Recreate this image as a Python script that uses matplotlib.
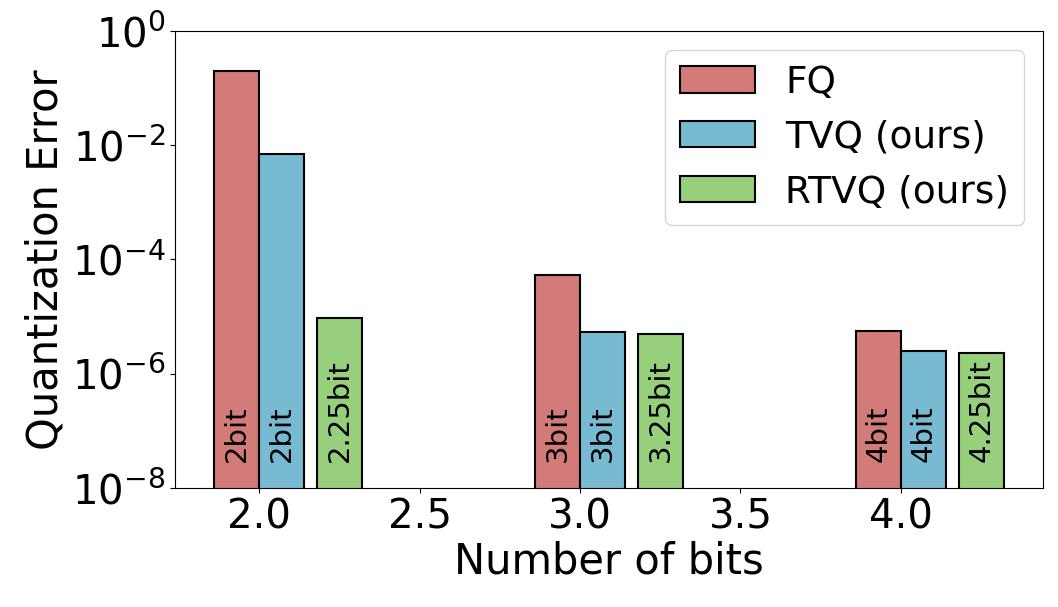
import matplotlib
matplotlib.use("Agg")
from matplotlib import pyplot as plt
import numpy as np

# quantization error per method
bits = [2, 3, 4]
fq = [0.2, 5.4e-5, 5.5e-6]
tvq = [7.0e-3, 5.4e-6, 2.5e-6]
rtvq = [9.5e-6, 5.0e-6, 2.3e-6]
fq_labels = ["2bit", "3bit", "4bit"]
tvq_labels = ["2bit", "3bit", "4bit"]
rtvq_labels = ["2.25bit", "3.25bit", "4.25bit"]

w = 0.14
x = np.array(bits, dtype=float)

fig = plt.figure(figsize=(10.58, 6.07), dpi=100)
ax = fig.add_axes([0.1654, 0.196, 0.8204, 0.753])

ax.bar(x - w / 2, fq, w, color="#d27b78", edgecolor="black", linewidth=1.5, label="FQ")
ax.bar(x + w / 2, tvq, w, color="#78bad2", edgecolor="black", linewidth=1.5, label="TVQ (ours)")
ax.bar(x + 0.25, rtvq, w, color="#98cf7d", edgecolor="black", linewidth=1.5, label="RTVQ (ours)")

for xs, labs in [(x - w / 2, fq_labels), (x + w / 2, tvq_labels), (x + 0.25, rtvq_labels)]:
    for xi, t in zip(xs, labs):
        ax.text(xi, 2.8e-8, t, rotation=90, ha="center", va="bottom", fontsize=21)

ax.set_yscale("log")
ax.set_ylim(1e-8, 1)
ax.set_yticks([1e0, 1e-2, 1e-4, 1e-6, 1e-8])
ax.minorticks_off()
ax.set_xticks([2.0, 2.5, 3.0, 3.5, 4.0])
ax.tick_params(labelsize=29)
ax.set_xlabel("Number of bits", fontsize=30, labelpad=2)
ax.set_ylabel("Quantization Error", fontsize=30)
ax.legend(fontsize=27, loc="upper right")

plt.savefig("out.png")
